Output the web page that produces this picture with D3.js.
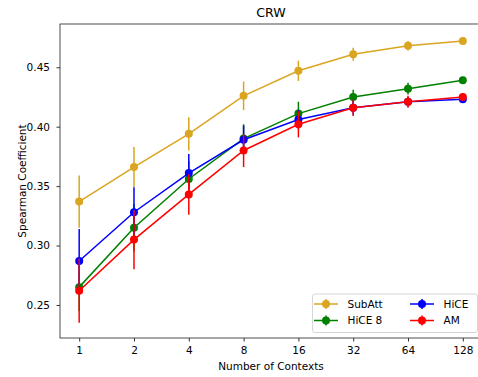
<!DOCTYPE html>
<html>
<head>
<meta charset="utf-8">
<script src="https://cdn.jsdelivr.net/npm/d3@7"></script>
<style>
  body { margin: 0; background: #fff; }
  svg { display: block; font-family: "DejaVu Sans", sans-serif; }
</style>
</head>
<body>
<div id="chart"></div>
<script>
const contexts = [1, 2, 4, 8, 16, 32, 64, 128];
const yTicks = [0.25, 0.30, 0.35, 0.40, 0.45];

const subAtt    = [0.337, 0.366, 0.394, 0.426, 0.447, 0.461, 0.468, 0.472];
const subAttErr = [0.022, 0.017, 0.014, 0.012, 0.0085, 0.0055, 0.004, 0.002];
const hice8     = [0.265, 0.315, 0.356, 0.390, 0.411, 0.425, 0.432, 0.439];
const hice8Err  = [0.020, 0.020, 0.015, 0.012, 0.010, 0.006, 0.005, 0.002];
const hice      = [0.287, 0.328, 0.361, 0.389, 0.406, 0.416, 0.421, 0.423];
const hiceErr   = [0.027, 0.021, 0.016, 0.012, 0.008, 0.006, 0.004, 0.002];
const am        = [0.262, 0.305, 0.343, 0.380, 0.402, 0.416, 0.421, 0.425];
const amErr     = [0.027, 0.025, 0.017, 0.014, 0.011, 0.007, 0.005, 0.003];

const series = [
    { name: "SubAtt", values: subAtt, err: subAttErr, color: "#DAA520" },
    { name: "HiCE 8", values: hice8, err: hice8Err, color: "#008000" },
    { name: "HiCE", values: hice, err: hiceErr, color: "#0000FF" },
    { name: "AM", values: am, err: amErr, color: "#FF0000" },
];

const W = 478, H = 377;
const plot = { left: 60, right: 482, top: 24, bottom: 338 };

const svg = d3.select("#chart").append("svg")
    .attr("width", W)
    .attr("height", H);

const x = d3.scaleLog().base(2)
    .domain([Math.pow(2, -0.35), Math.pow(2, 7.35)])
    .range([plot.left, plot.right]);

const y = d3.scaleLinear()
    .domain([0.2222, 0.4864])
    .range([plot.bottom, plot.top]);

// axes
const xAxis = svg.append("g")
    .attr("transform", `translate(0,${plot.bottom})`)
    .call(d3.axisBottom(x).tickValues(contexts).tickFormat(d => d).tickSize(3.5).tickPadding(5.5));
const yAxis = svg.append("g")
    .attr("transform", `translate(${plot.left},0)`)
    .call(d3.axisLeft(y).tickValues(yTicks).tickFormat(d3.format(".2f")).tickSize(3.5).tickPadding(6.5));

[xAxis, yAxis].forEach(g => {
    g.select(".domain").remove();
    g.selectAll(".tick line").attr("stroke", "#000").attr("stroke-width", 0.8);
    g.selectAll(".tick text")
        .attr("fill", "#000")
        .style("font-size", "10.5px")
        .style("font-family", "DejaVu Sans");
});

// spines
svg.append("rect")
    .attr("x", plot.left).attr("y", plot.top)
    .attr("width", plot.right - plot.left)
    .attr("height", plot.bottom - plot.top)
    .attr("fill", "none")
    .attr("stroke", "#222")
    .attr("stroke-width", 0.8);

const line = d3.line()
    .x((d, i) => x(contexts[i]))
    .y(d => y(d));

series.forEach(s => {
    const g = svg.append("g");
    g.append("path")
        .datum(s.values)
        .attr("fill", "none")
        .attr("stroke", s.color)
        .attr("stroke-width", 1.5)
        .attr("d", line);
    g.selectAll("line.err")
        .data(s.values)
        .join("line")
        .attr("class", "err")
        .attr("x1", (d, i) => x(contexts[i]))
        .attr("x2", (d, i) => x(contexts[i]))
        .attr("y1", (d, i) => y(d - s.err[i]))
        .attr("y2", (d, i) => y(d + s.err[i]))
        .attr("stroke", s.color)
        .attr("stroke-width", 1.5);
    g.selectAll("circle")
        .data(s.values)
        .join("circle")
        .attr("cx", (d, i) => x(contexts[i]))
        .attr("cy", d => y(d))
        .attr("r", 4)
        .attr("fill", s.color);
});

// title and labels
svg.append("text")
    .attr("x", (plot.left + plot.right) / 2)
    .attr("y", 17)
    .attr("text-anchor", "middle")
    .style("font-size", "12.6px")
    .text("CRW");

svg.append("text")
    .attr("x", (plot.left + plot.right) / 2)
    .attr("y", 370)
    .attr("text-anchor", "middle")
    .style("font-size", "10.5px")
    .text("Number of Contexts");

svg.append("text")
    .attr("transform", `translate(26,${(plot.top + plot.bottom) / 2}) rotate(-90)`)
    .attr("text-anchor", "middle")
    .style("font-size", "10.5px")
    .text("Spearman Coefficient");

// legend
const legend = svg.append("g");
legend.append("rect")
    .attr("x", 312.5).attr("y", 294)
    .attr("width", 165).attr("height", 38.5)
    .attr("rx", 2.5)
    .attr("fill", "#fff").attr("fill-opacity", 0.8)
    .attr("stroke", "#ccc").attr("stroke-width", 0.8);

const legendPos = [
    { x: 314, y: 304 }, { x: 314, y: 320.5 },
    { x: 410, y: 304 }, { x: 410, y: 320.5 },
];
series.forEach((s, i) => {
    const p = legendPos[i];
    const item = legend.append("g").attr("transform", `translate(${p.x},${p.y})`);
    item.append("line")
        .attr("x1", 0).attr("x2", 24)
        .attr("stroke", s.color).attr("stroke-width", 1.5);
    item.append("line")
        .attr("x1", 12).attr("x2", 12).attr("y1", -5).attr("y2", 5)
        .attr("stroke", s.color).attr("stroke-width", 1.5);
    item.append("circle")
        .attr("cx", 12).attr("r", 4).attr("fill", s.color);
    item.append("text")
        .attr("x", 33.5).attr("y", 3.8)
        .style("font-size", "10.5px")
        .text(s.name);
});
</script>
</body>
</html>
